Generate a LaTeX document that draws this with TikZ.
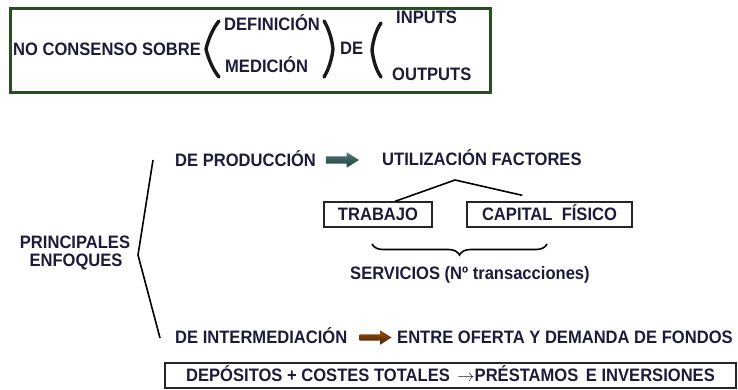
\documentclass[tikz,border=0pt]{standalone}
\usepackage{fontspec}
\setmainfont{Liberation Sans}[FakeStretch=0.92]
\usepackage{tikz}
\usetikzlibrary{shapes,shapes.arrows,positioning,calc,decorations.pathreplacing}
\definecolor{textnavy}{RGB}{28, 28, 58}
\definecolor{boxgreen}{RGB}{38, 80, 32}
\definecolor{arrteal}{RGB}{30, 78, 72}
\definecolor{arrbrown}{RGB}{92, 46, 14}

\begin{document}
\begin{tikzpicture}[
        x=1pt, y=-1pt,
        label/.style={anchor=base west, inner sep=0pt, text=textnavy, font=\bfseries\fontsize{18}{18}\selectfont},
        factor/.style={draw=black!85, line width=1.3pt, rectangle, minimum height=25pt, inner sep=0pt, text height=12.5pt, text depth=0pt, text=textnavy, font=\bfseries\fontsize{18}{18}\selectfont},
        blockarrow/.style={single arrow, draw=none, inner sep=3.5pt, minimum width=15pt, single arrow head extend=4pt, single arrow tip angle=64},
        bracket/.style={line width=3.4pt, line cap=round, black!90},
        line/.style={line width=1.6pt, black}
    ]
        \useasboundingbox (0,0) rectangle (738,389);

        % Top box
        \node[draw=boxgreen, line width=3pt, minimum width=480pt, minimum height=84pt, inner sep=0pt] (topbox) at (250,50) {};
        \node[label] (noconsenso) at (13,55) {NO CONSENSO SOBRE};
        \node[label] (definicion) at (224,30) {DEFINICIÓN};
        \node[label] (medicion) at (225,72) {MEDICIÓN};
        \node[label] (de) at (340,54) {DE};
        \node[label] (inputs) at (396,23) {INPUTS};
        \node[label] (outputs) at (392,80) {OUTPUTS};

        % Brackets
        \draw[bracket] (219,21) .. controls (213,28) and (208,40) .. (206,49) .. controls (208,58) and (213,70) .. (219,77);
        \draw[bracket] (324,21) .. controls (329,29) and (332,40) .. (333,49) .. controls (332,58) and (329,69) .. (324,77);
        \draw[bracket] (381,23) .. controls (376,30) and (373,41) .. (372,50) .. controls (373,59) and (376,70) .. (381,77);

        % Principales enfoques
        \node[anchor=base, inner sep=0pt, text depth=0pt, text=textnavy, font=\bfseries\fontsize{18}{18}\selectfont] (enfoques) at (75,248) {PRINCIPALES};
        \node[anchor=base, inner sep=0pt, text height=12.5pt, text=textnavy, font=\bfseries\fontsize{18}{18}\selectfont] (enfoques2) at (76,266) {ENFOQUES};
        \draw[line] (153,160) -- (138,255) -- (160,338);

        % Enfoque de produccion
        \node[label] (produccion) at (175,166) {DE PRODUCCIÓN};
        \node[blockarrow, minimum height=33pt, top color=arrteal!75, bottom color=arrteal!80!black] (arrprod) at (339.5,160) {};
        \node[label] (utilizacion) at (382,165) {UTILIZACIÓN FACTORES};
        \coordinate (apex) at (455,180);
        \node[factor, minimum width=108pt] (trabajo) at (378,214.5) {TRABAJO};
        \node[factor, minimum width=165pt] (capital) at (549.5,214.5) {CAPITAL\ \ FÍSICO};
        \draw[line] ($(trabajo.north)+(17,0)$) -- (apex) -- ($(capital.north west)+(56,-6)$);
        \draw[line, decorate, decoration={brace, amplitude=11pt}] (547,244) -- (372,244);
        \node[label] (servicios) at (350,279) {SERVICIOS (Nº transacciones)};

        % Enfoque de intermediacion
        \node[label] (intermediacion) at (175,343) {DE INTERMEDIACIÓN};
        \node[blockarrow, minimum height=32pt, minimum width=13pt, inner sep=3pt, top color=arrbrown!60!orange, bottom color=arrbrown!70!black] (arrinter) at (373,337.5) {};
        \node[label] (oferta) at (397,343) {ENTRE OFERTA Y DEMANDA DE FONDOS};
        \node[factor, minimum width=571pt] (depositos) at (450.5,375.5) {DEPÓSITOS + COSTES TOTALES\hspace{3pt} $\rightarrow$PRÉSTAMOS\hspace{3pt} E INVERSIONES};
    \end{tikzpicture}
\end{document}
